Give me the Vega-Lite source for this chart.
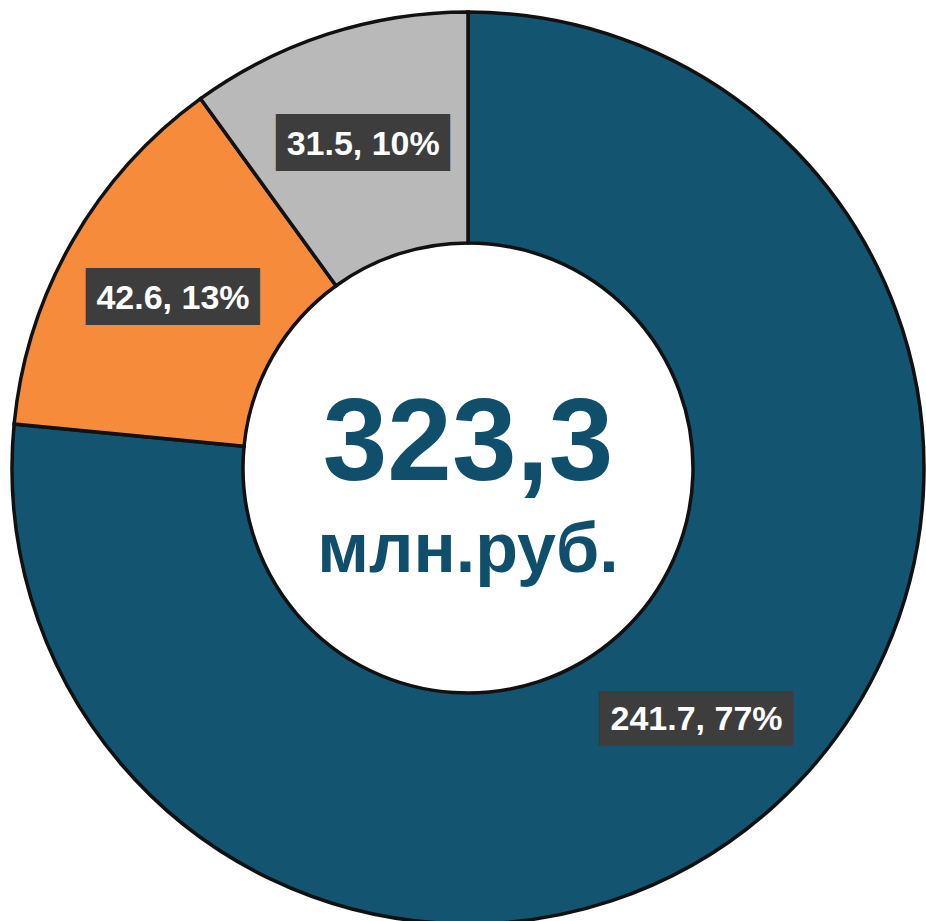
{
  "$schema": "https://vega.github.io/schema/vega-lite/v6.json",
  "width": 936,
  "height": 936,
  "autosize": "none",
  "padding": 0,
  "background": "white",
  "view": {"stroke": null},
  "data": {"values": [
    {"category": "A", "value": 241.7, "label": "241.7, 77%", "order": 1},
    {"category": "B", "value": 42.6, "label": "42.6, 13%", "order": 2},
    {"category": "C", "value": 31.5, "label": "31.5, 10%", "order": 3}
  ]},
  "layer": [
    {
      "encoding": {
        "theta": {"field": "value", "type": "quantitative", "stack": true},
        "order": {"field": "order", "type": "quantitative"}
      },
      "layer": [
        {
          "mark": {"type": "arc", "outerRadius": 456, "innerRadius": 225, "stroke": "#111111", "strokeWidth": 3.5},
          "encoding": {
            "color": {"field": "category", "type": "nominal", "scale": {"domain": ["A", "B", "C"], "range": ["#135470", "#F68B3C", "#B9B9B9"]}, "legend": null}
          }
        },
        {
          "mark": {"type": "text", "radius": 340, "font": "DejaVu Sans Mono", "color": "#3d3d3d", "baseline": "middle", "align": "center"},
          "encoding": {
            "text": {"condition": {"test": "datum.category === 'A'", "value": "███████"}, "value": "██████"},
            "size": {"condition": {"test": "datum.category === 'A'", "value": 46}, "value": 48}
          }
        },
        {
          "mark": {"type": "text", "radius": 340, "font": "Liberation Sans", "fontWeight": "bold", "fontSize": 34, "color": "white", "baseline": "middle", "align": "center"},
          "encoding": {"text": {"field": "label"}}
        }
      ]
    },
    {
      "data": {"values": [{"t": "323,3"}]},
      "mark": {"type": "text", "font": "Liberation Sans", "fontWeight": "bold", "fontSize": 116, "color": "#0F4F6B", "baseline": "alphabetic", "align": "center", "dy": 12},
      "encoding": {"text": {"field": "t"}}
    },
    {
      "data": {"values": [{"t": "млн.руб."}]},
      "mark": {"type": "text", "font": "Liberation Sans", "fontWeight": "bold", "fontSize": 70, "color": "#0F4F6B", "baseline": "alphabetic", "align": "center", "dy": 104},
      "encoding": {"text": {"field": "t"}}
    }
  ]
}
